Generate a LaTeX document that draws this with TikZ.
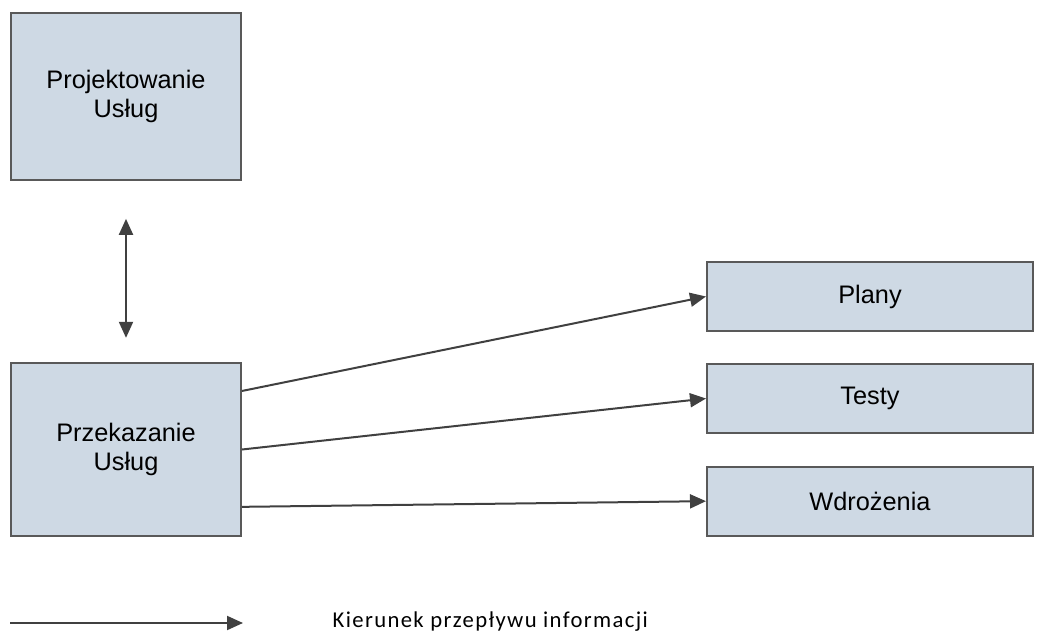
\documentclass[tikz,border=0pt]{standalone}
\usepackage{fontspec}
\setmainfont{Liberation Sans}
\newfontfamily\legendfont[LetterSpace=6]{Carlito}
\usetikzlibrary{positioning,arrows.meta}
\definecolor{boxfill}{HTML}{CED9E4}
\definecolor{boxline}{HTML}{595959}
\definecolor{arrline}{HTML}{404040}

\begin{document}
\begin{tikzpicture}[
  x=0.75pt, y=-0.75pt,
  blok/.style={draw=boxline, line width=1.5pt, fill=boxfill, align=center,
               inner sep=0pt, font=\fontsize{19}{22}\selectfont},
  bigblok/.style={blok, minimum width=172.5pt, minimum height=127pt},
  wynik/.style={blok, minimum width=244.5pt, minimum height=52pt},
  ar/.style={-{Triangle[length=12pt, width=10.5pt]}, draw=arrline, line width=1.5pt},
  dar/.style={ar, {Triangle[length=12pt, width=10.5pt]}-{Triangle[length=12pt, width=10.5pt]}}
]
\useasboundingbox (0,0) rectangle (1043,636);
\node[bigblok, minimum height=125pt] (proj) at (126,96.5) {Projektowanie\\Usług};
\node[bigblok, minimum height=130pt] (przek) at (126,449.5) {Przekazanie\\Usług};
\node[wynik] (plany) at (870,296.5) {Plany};
\node[wynik, below=23pt of plany] (testy) {Testy};
\node[wynik, below=23.5pt of testy] (wdroz) {Wdrożenia};
\draw[dar, shorten <=28.5pt, shorten >=18pt] (proj.south) -- (przek.north);
\draw[ar] ([yshift=43.9pt]przek.east) -- (plany.west);
\draw[ar] (przek.east) -- (testy.west);
\draw[ar] ([yshift=-43pt]przek.east) -- (wdroz.west);
% legenda
\coordinate (legA) at (10,623);
\coordinate (legB) at (243,623);
\draw[ar] (legA) -- (legB);
\node[font=\legendfont\fontsize{17}{20}\selectfont, anchor=west] (legtxt) at (328,622) {Kierunek przepływu informacji};
\end{tikzpicture}
\end{document}
